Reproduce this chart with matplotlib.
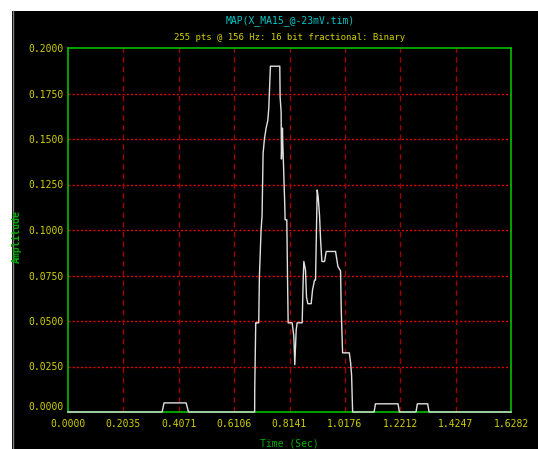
import numpy as np
import matplotlib
matplotlib.use('Agg')
from matplotlib import pyplot as plt
from matplotlib.patches import Rectangle

# 波形数据 (读图得到的折点)
t = [0.0, 0.346, 0.353, 0.434, 0.443, 0.686, 0.6863, 0.690, 0.692, 0.701, 0.7035,
     0.7096, 0.7133, 0.717, 0.7219, 0.7281, 0.7342, 0.7379, 0.744, 0.7784, 0.7796,
     0.7833, 0.7845, 0.7882, 0.7894, 0.7931, 0.7968, 0.798, 0.8042, 0.8066, 0.8091,
     0.8238, 0.830, 0.8336, 0.8386, 0.8422, 0.8607, 0.8643, 0.8668, 0.8729, 0.8766,
     0.8815, 0.8938, 0.8987, 0.9061, 0.9098, 0.9159, 0.9196, 0.9245, 0.9282, 0.9331,
     0.9429, 0.949, 0.9834, 0.992, 1.0018, 1.0043, 1.0092, 1.0338, 1.0387, 1.0424,
     1.046, 1.125, 1.130, 1.213, 1.218, 1.279, 1.284, 1.322, 1.327, 1.6282]
amp = [0.0, 0.0, 0.005, 0.005, 0.0, 0.0, 0.012, 0.049, 0.049, 0.049, 0.0745,
       0.100, 0.108, 0.142, 0.150, 0.156, 0.160, 0.1668, 0.190, 0.190, 0.173,
       0.165, 0.139, 0.156, 0.148, 0.131, 0.113, 0.1056, 0.1056, 0.0766, 0.049,
       0.049, 0.0417, 0.026, 0.045, 0.049, 0.049, 0.072, 0.0827, 0.078, 0.063,
       0.0595, 0.0595, 0.067, 0.0725, 0.0725, 0.122, 0.118, 0.108, 0.095, 0.0827,
       0.0827, 0.0882, 0.0882, 0.080, 0.0775, 0.056, 0.0325, 0.0325, 0.027, 0.020,
       0.0, 0.0, 0.0045, 0.0045, 0.0, 0.0, 0.0045, 0.0045, 0.0, 0.0]

xticks = [0.0, 0.2035, 0.4071, 0.6106, 0.8141, 1.0176, 1.2212, 1.4247, 1.6282]
yticks = [0.0, 0.025, 0.05, 0.075, 0.1, 0.125, 0.15, 0.175, 0.2]

W, H = 538, 449
fig = plt.figure(figsize=(W/100, H/100), dpi=100, facecolor='white')
# 黑色背景
fig.patches.append(Rectangle((12/W, 0), 1, (H-11)/H, transform=fig.transFigure,
                             facecolor='black', edgecolor='none', zorder=-10))
fig.add_artist(plt.Line2D([12.5/W, 12.5/W], [0, (H-11)/H], color='#808080', lw=1))

ax = fig.add_axes([68/W, 37/H, 443/W, 364/H])
ax.set_facecolor('black')
for s in ax.spines.values():
    s.set_color('#00c000')
    s.set_linewidth(1.2)

ax.set_xlim(0, 1.6282)
ax.set_ylim(0, 0.2)
ax.set_xticks(xticks)
ax.set_yticks(yticks)
ax.set_xticklabels(['%.4f' % v for v in xticks])
ax.set_yticklabels(['%.4f' % v for v in yticks])
ax.tick_params(length=0, colors='#d0d000', labelsize=7)
ax.tick_params(axis='x', pad=5)
ax.tick_params(axis='y', pad=3)
for lab in ax.get_xticklabels() + ax.get_yticklabels():
    lab.set_family('DejaVu Sans Mono')
ax.get_yticklabels()[0].set_va('bottom')

# 网格
for v in yticks[1:-1]:
    ax.axhline(v, color='#e80000', lw=1, linestyle=(0, (1.5, 1.5)), zorder=1)
for v in xticks[1:-1]:
    ax.axvline(v, color='#a00000', lw=1, linestyle=(0, (4, 3)), zorder=1)

ax.plot(t, amp, color='#e0e0e0', lw=1, zorder=5, clip_on=False)

fig.text(290/W, 1-21/H, 'MAP(X_MA15_@-23mV.tim)', color='#00c8c8', fontsize=7,
         family='DejaVu Sans Mono', ha='center', va='center')
fig.text(290/W, 1-38/H, '255 pts @ 156 Hz: 16 bit fractional: Binary', color='#d0d000',
         fontsize=6.5, family='DejaVu Sans Mono', ha='center', va='center')
fig.text(289/W, 1-444/H, 'Time (Sec)', color='#00b000', fontsize=7,
         family='DejaVu Sans Mono', ha='center', va='center')
fig.text(17/W, 1-237/H, 'Amplitude', color='#00b000', fontsize=7, rotation=90,
         family='DejaVu Sans Mono', ha='center', va='center', weight='bold')

fig.savefig('out.png', dpi=100, facecolor='white')
